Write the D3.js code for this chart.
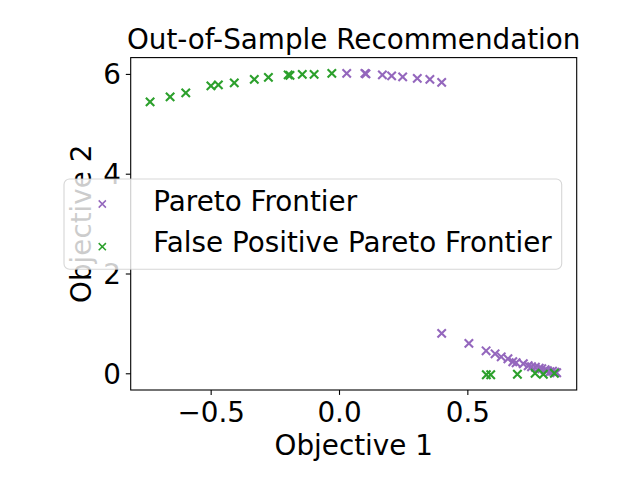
<!DOCTYPE html>
<html><head><meta charset="utf-8">
<script src="https://cdn.jsdelivr.net/npm/d3@7"></script>
<style>body{margin:0;background:#fff}svg{display:block}text{font-family:"DejaVu Sans",sans-serif;fill:#000}</style>
</head><body>
<script>
const title = "Out-of-Sample Recommendation";
const xLabel = "Objective 1";
const yLabel = "Objective 2";
const seriesNames = ["Pareto Frontier", "False Positive Pareto Frontier"];
const seriesColors = ["#9467bd", "#2ca02c"];
const xTicks = [-0.5, 0.0, 0.5];
const yTicks = [0, 2, 4, 6];

const paretoX = [0.030, 0.101, 0.105, 0.169, 0.205, 0.248, 0.305, 0.354, 0.400,
  0.400, 0.506, 0.573, 0.608, 0.632, 0.658, 0.677, 0.690, 0.718, 0.737, 0.750, 0.765, 0.780, 0.790, 0.803, 0.812, 0.822, 0.832, 0.842, 0.848];
const paretoY = [6.01, 6.01, 6.00, 5.98, 5.96, 5.94, 5.91, 5.89, 5.83,
  0.80, 0.60, 0.45, 0.39, 0.33, 0.29, 0.23, 0.21, 0.19, 0.15, 0.13, 0.12, 0.10, 0.09, 0.07, 0.05, 0.03, 0.04, 0.02, 0.01];
const fpX = [-0.736, -0.658, -0.597, -0.499, -0.470, -0.408, -0.330, -0.275, -0.198, -0.191, -0.143, -0.097, -0.028,
  0.574, 0.591, 0.695, 0.764, 0.796, 0.839];
const fpY = [5.44, 5.54, 5.62, 5.76, 5.78, 5.82, 5.89, 5.93, 5.98, 5.97, 5.99, 5.99, 6.01,
  -0.03, -0.03, -0.02, 0.00, -0.02, 0.00];

const W = 640, H = 480;
const L = 130.7, R = 576.7, T = 57.6, B = 390;
const svg = d3.select("body").append("svg").attr("width", W).attr("height", H);
const x = d3.scaleLinear().domain([-0.8115, 0.926]).range([L, R]);
const y = d3.scaleLinear().domain([-0.335, 6.327]).range([B, T]);
const FS = 27.8;

function xMarker(g, cx, cy, r, color, sw) {
  g.append("path").attr("d", `M${cx-r},${cy-r}L${cx+r},${cy+r}M${cx-r},${cy+r}L${cx+r},${cy-r}`)
    .attr("stroke", color).attr("stroke-width", sw).attr("fill", "none");
}

// axes
const xAxis = svg.append("g").attr("transform", `translate(0,${B})`)
  .call(d3.axisBottom(x).tickValues(xTicks).tickSize(4.9).tickPadding(4.9).tickFormat(d => d3.format(".1f")(d).replace("-", "\u2212")));
const yAxis = svg.append("g").attr("transform", `translate(${L},0)`)
  .call(d3.axisLeft(y).tickValues(yTicks).tickSize(4.9).tickPadding(4.9).tickFormat(d3.format("d")));
[xAxis, yAxis].forEach(a => {
  a.select(".domain").remove();
  a.selectAll(".tick line").attr("stroke", "#000").attr("stroke-width", 1.1);
  a.selectAll(".tick text").style("font-size", FS + "px").attr("fill", "#000");
});
xAxis.selectAll(".tick text").attr("dy", null).attr("y", 32);
yAxis.selectAll(".tick text").attr("dy", "0.36em");

// data
const pts = svg.append("g");
const fpData = fpX.map((v, i) => [v, fpY[i]]);
const pData = paretoX.map((v, i) => [v, paretoY[i]]);
pData.forEach(d => xMarker(pts, x(d[0]), y(d[1]), 4.2, seriesColors[0], 2.1));
fpData.forEach(d => xMarker(pts, x(d[0]), y(d[1]), 4.2, seriesColors[1], 2.1));

// frame
svg.append("rect").attr("x", L).attr("y", T).attr("width", R - L).attr("height", B - T)
  .attr("fill", "none").attr("stroke", "#000").attr("stroke-width", 1.1);

// labels
svg.append("text").attr("x", (L + R) / 2).attr("y", 49.3).attr("text-anchor", "middle").style("font-size", FS + "px").text(title);
svg.append("text").attr("x", (L + R) / 2).attr("y", 455.3).attr("text-anchor", "middle").style("font-size", FS + "px").text(xLabel);
svg.append("text").attr("transform", `translate(91,${(T + B) / 2}) rotate(-90)`).attr("text-anchor", "middle").style("font-size", FS + "px").text(yLabel);

// legend
const lg = svg.append("g");
lg.append("rect").attr("x", 64).attr("y", 179).attr("width", 497.7).attr("height", 90.3).attr("rx", 5.5)
  .attr("fill", "#fff").attr("fill-opacity", 0.8).attr("stroke", "#cccccc").attr("stroke-opacity", 0.8).attr("stroke-width", 1.1);
const legY = [204, 246.7];
seriesNames.forEach((n, i) => {
  xMarker(lg, 102.3, legY[i], 3.6, seriesColors[i], 1.5);
  lg.append("text").attr("x", 153.3).attr("y", legY[i] + 6.8 + (i === 1 ? -1.8 : 0)).style("font-size", FS + "px").text(n);
});
</script>
</body></html>
